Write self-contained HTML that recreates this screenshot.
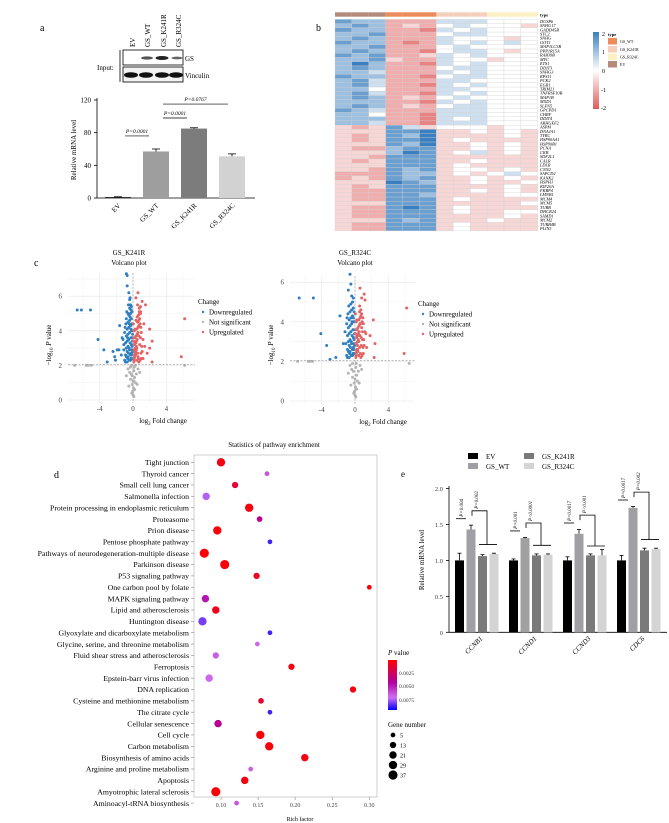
<!DOCTYPE html>
<html><head><meta charset="utf-8">
<style>
html,body{margin:0;padding:0;background:#fff;}
svg{display:block;font-family:"Liberation Serif",serif;}
</style></head>
<body>
<svg id="fig" width="669" height="823" viewBox="0 0 669 823" xmlns="http://www.w3.org/2000/svg">
<g id="pa">
<text x="40" y="31" font-size="10">a</text>
<text transform="translate(135,47) rotate(-90)" font-size="7">EV</text>
<text transform="translate(150,47) rotate(-90)" font-size="7">GS_WT</text>
<text transform="translate(166,47) rotate(-90)" font-size="7">GS_K241R</text>
<text transform="translate(181,47) rotate(-90)" font-size="7">GS_R324C</text>
<text x="97" y="70" font-size="7">Input:</text>
<line x1="120" y1="50" x2="120" y2="82" stroke="#000" stroke-width="0.8"/>
<rect x="123" y="50" width="60" height="15" fill="#fff" stroke="#000" stroke-width="0.8"/>
<rect x="123" y="67" width="60" height="15" fill="#f3f3f3" stroke="#000" stroke-width="0.8"/>
<ellipse cx="147" cy="58" rx="6" ry="1.6" fill="#555"/><ellipse cx="162" cy="58" rx="6.5" ry="2" fill="#222"/><ellipse cx="177" cy="58" rx="5.5" ry="1.4" fill="#666"/>
<ellipse cx="131" cy="75" rx="7" ry="2.8" fill="#111"/><ellipse cx="146" cy="75" rx="7" ry="2.8" fill="#111"/><ellipse cx="162" cy="75" rx="7" ry="2.8" fill="#111"/><ellipse cx="176" cy="75" rx="7" ry="2.8" fill="#111"/>
<text x="185" y="61" font-size="7">GS</text>
<text x="185" y="78" font-size="7">Vinculin</text>
<g id="abars"></g>
<text transform="translate(76,150) rotate(-90)" font-size="7" text-anchor="middle">Relative mRNA level</text>
</g>
<g id="pb">
<text x="316" y="31" font-size="10">b</text>
<g id="heat"></g>
<defs>
<linearGradient id="hmg" x1="0" y1="0" x2="0" y2="1"><stop offset="0" stop-color="#3a7fc0"/><stop offset="0.5" stop-color="#ffffff"/><stop offset="1" stop-color="#e05a5a"/></linearGradient>
<linearGradient id="pvg" x1="0" y1="0" x2="0" y2="1"><stop offset="0" stop-color="#ff0000"/><stop offset="0.45" stop-color="#b000a0"/><stop offset="0.75" stop-color="#d070f0"/><stop offset="1" stop-color="#0000ff"/></linearGradient>
</defs>
<rect x="593" y="32" width="6" height="77" fill="url(#hmg)"/>
<g font-size="6">
<text x="602" y="36">2</text><text x="602" y="54">1</text><text x="602" y="73">0</text><text x="601" y="92">-1</text><text x="601" y="110">-2</text></g>
<text x="608" y="36" font-size="4.5" font-weight="bold">type</text>
<g font-size="4">
<rect x="608" y="38" width="9" height="6.5" fill="#ec8c5a"/><text x="620" y="43">GS_WT</text>
<rect x="608" y="46" width="9" height="6.5" fill="#f4d0bc"/><text x="620" y="51">GS_K241R</text>
<rect x="608" y="53.5" width="9" height="6.5" fill="#fcf0c4"/><text x="620" y="58.5">GS_R324C</text>
<rect x="608" y="61" width="9" height="6.5" fill="#b38a7c"/><text x="620" y="66">EV</text></g>
</g>
<g id="pc">
<text x="34" y="266" font-size="10">c</text>
<text x="129" y="255" font-size="7" text-anchor="middle">GS_K241R</text>
<text x="129" y="265" font-size="7" text-anchor="middle">Volcano plot</text>
<text x="355" y="255" font-size="7" text-anchor="middle">GS_R324C</text>
<text x="355" y="265" font-size="7" text-anchor="middle">Volcano plot</text>
<g id="vL"></g><g id="vR"></g>
</g>
<g id="pd">
<text x="54" y="478" font-size="10">d</text>
<text x="274" y="447" font-size="7" text-anchor="middle">Statistics of pathway enrichment</text>
<rect x="194" y="455" width="183" height="342" fill="#fff" stroke="#bbb" stroke-width="0.7"/>
<g id="dots"></g>
<text x="300" y="821" font-size="6" text-anchor="middle">Rich factor</text>
<text x="388" y="655" font-size="7"><tspan font-style="italic">P</tspan> value</text>
<rect x="388" y="660" width="9" height="50" fill="url(#pvg)"/>
<g font-size="5.5" fill="#333"><text x="399" y="675">0.0025</text><text x="399" y="688">0.0050</text><text x="399" y="702">0.0075</text></g>
<text x="388" y="727" font-size="7">Gene number</text>
<g id="sizeleg"></g>
</g>
<g id="pe">
<text x="401" y="477" font-size="9">e</text>
<g font-size="7">
<rect x="468" y="453" width="10" height="6" fill="#000"/><text x="486" y="459">EV</text>
<rect x="468" y="463" width="10" height="6" fill="#a0a0a4"/><text x="486" y="469">GS_WT</text>
<rect x="524" y="453" width="10" height="6" fill="#7a7a7a"/><text x="542" y="459">GS_K241R</text>
<rect x="524" y="463" width="10" height="6" fill="#d4d4d4"/><text x="542" y="469">GS_R324C</text></g>
<g id="ebars"></g>
<text transform="translate(424,560) rotate(-90)" font-size="7" text-anchor="middle">Relative mRNA level</text>
</g>
</svg>
<script>
const NS="http://www.w3.org/2000/svg";
function mk(p,t,a,txt){const e=document.createElementNS(NS,t);for(const k in a)e.setAttribute(k,a[k]);if(txt!==undefined)e.textContent=txt;p.appendChild(e);return e;}

// ---------- Panel a data ----------
const aCats=["EV","GS_WT","GS_K241R","GS_R324C"];
const aVals=[1,57,85,51];
const aErr=[0.5,3,1,3];
const aTicks=[0,40,80,120];
const aColors=["#000","#9e9e9e","#7c7c7c","#d2d2d2"];
const aSigLevels=[76,98,115];
const aSigLabels=["P=0.0001","P=0.0001","P=0.0767"];
(function(){
 const g=document.getElementById('abars');
 const ay=v=>198-v*0.8167, ax=i=>118+i*38;
 mk(g,'line',{x1:97,y1:98,x2:97,y2:198,stroke:'#000','stroke-width':0.8});
 mk(g,'line',{x1:97,y1:198,x2:255,y2:198,stroke:'#000','stroke-width':0.8});
 aTicks.forEach(t=>{mk(g,'line',{x1:94,y1:ay(t),x2:97,y2:ay(t),stroke:'#000','stroke-width':0.8});
  const tx=mk(g,'text',{x:91,y:ay(t)+2.5,'font-size':7,'text-anchor':'end'},t);
  
  });
 aCats.forEach((c,i)=>{
  const r=mk(g,'rect',{x:ax(i)-13,y:ay(aVals[i]),width:26,height:198-ay(aVals[i]),fill:aColors[i]});
  
  
  mk(g,'line',{x1:ax(i),y1:ay(aVals[i]+aErr[i]),x2:ax(i),y2:ay(aVals[i]),stroke:'#000','stroke-width':0.8});
  mk(g,'line',{x1:ax(i)-4,y1:ay(aVals[i]+aErr[i]),x2:ax(i)+4,y2:ay(aVals[i]+aErr[i]),stroke:'#000','stroke-width':0.8});
  const t=mk(g,'text',{transform:`translate(${ax(i)+3},${206}) rotate(-45)`,'font-size':7,'text-anchor':'end'},c);
  
  
 });
 [[0,1],[1,2],[1,3]].forEach((s,k)=>{
  const y=ay(aSigLevels[k]);
  const x1=ax(s[0])+7, x2=ax(s[1])+(s[1]==3?-4:-7);
  mk(g,'line',{x1:x1,y1:y,x2:x2,y2:y,stroke:'#000','stroke-width':0.7});
  const t=mk(g,'text',{x:(x1+x2)/2,y:y-3,'font-size':5.5,'font-style':'italic','text-anchor':'middle'},aSigLabels[k]);
  
  
 });
})();

// ---------- Panel b data ----------
const hmGenes=["DUSP6","SNHG17","GADD45B","STC2","SNHG","GOT1","MAP1LC3B","PPP1R15A","RAB39B","MYC","ETS1","DDIT3","SNHG3","RPS11","PCK2","EGR1","TRIM21","TNFRSF10B","MAP1B","MXD1","SLFN5","GPCPD1","CHRF","DDIT4","ARHGEF2","ASPM","DNAJA1","TYRC","HSP90AA1","HSP90B1","PCNA","CKB","SDF2L1","CALR","LDLR","CNN2","SAPCD2","KANK2","HSPH1","KIF20A","FKBP4","LMNB1","MCM4","MCM5","TUBB","DHCR24","SAMD1","MCM2","TUBB4B","PLIN3"];
const hmRows=["766222555444","676232454443","766221545444","667222455444","676222544434","766212545454","667222454444","676221455434","767223545444","667322544344","686221545444","676222455444","665222545444","766221455444","675222554444","675221545444","664222554444","675221545444","676232454444","666221545444","676232455444","765222555444","664221555444","666221545444","665221555444",
"323753444344","333778334343","323768333343","323778343333","333768334343","322677334343","333687345343","332777333333","323777334333","333777343333","332767344343","222766343454","232767334343","333876334334","323777333343","322777334343","322776333344","322777343333","333777333334","322787343333","322777343344","322777333343","333767333433","322777343333","322777343333"];
const hmTypes=["EV","EV","EV","GS_WT","GS_WT","GS_WT","GS_K241R","GS_K241R","GS_K241R","GS_R324C","GS_R324C","GS_R324C"];
const typeColor={"EV":"#b38a7c","GS_WT":"#ec8c5a","GS_K241R":"#f4d0bc","GS_R324C":"#fcf0c4"};
(function(){
 const g=document.getElementById('heat');
 const x0=335,cw=16.9,y0=19.4,rh=4.23;
 function col(v){const a=Math.min(1,Math.abs(v)/2);let c=v>=0?[58,127,192]:[224,90,90];
  return `rgb(${Math.round(255+(c[0]-255)*a)},${Math.round(255+(c[1]-255)*a)},${Math.round(255+(c[2]-255)*a)})`;}
 hmTypes.forEach((t,j)=>{const r=mk(g,'rect',{x:x0+j*cw,y:12.3,width:cw,height:4.4,fill:typeColor[t]});
  
  });
 mk(g,'text',{x:540,y:16.5,'font-size':4.5,'font-weight':'bold'},'type');
 hmRows.forEach((s,i)=>{
  for(let j=0;j<12;j++){const v=(parseInt(s[j])-4)/2;
   const r=mk(g,'rect',{x:x0+j*cw,y:y0+i*rh,width:cw,height:rh,fill:col(v),stroke:'#d0d0d0','stroke-width':0.3});
   
   }
  const t=mk(g,'text',{x:540,y:y0+i*rh+3.4,'font-size':4.3,'font-style':'italic'},hmGenes[i]);
  
  
 });
})();

// ---------- Panel c data ----------
const vLBlue="-6.7:5.2,-6.2:5.2,-5.1:5.2,-4.2:3.5,-3.5:2.9,-3.1:2.2,-2.4:2.8,-2.2:2.5,-2.1:2.3,-1.9:2.9,-1.7:2.9,-1.6:4.3,-1.3:3.6,-1.4:2.6,-1.1:3.2,-0.8:4.7,-0.6:5.0,-0.5:6.2,-0.7:6.6,-0.8:7.3,-0.7:7.2,-0.3:5.5,-0.4:5.8,-1.0:2.3,-0.9:2.6,-0.8:3.0,-0.7:3.4,-0.6:3.8,-0.5:4.2,-0.4:4.6,-0.3:5.0,-0.2:5.4,-0.1:2.4,-1.1:2.9,-0.9:3.3,-0.8:3.7,-0.7:4.1,-0.6:4.5,-0.5:4.9,-0.4:5.3,-0.3:2.3,-0.2:2.7,-0.1:3.1,-0.9:2.2,-0.8:2.5,-0.7:2.8,-0.6:3.1,-0.5:3.5,-0.4:3.9,-0.3:4.3,-0.2:4.7,-0.1:5.1,-0.15:3.6,-1.2:3.5,-1.0:3.9,-0.85:4.4,-0.65:2.4,-0.55:2.7,-0.45:3.0,-0.35:3.3,-0.25:3.6,-0.15:4.0,-0.05:4.4,-0.95:4.2,-0.75:5.1,-0.55:5.5,-0.35:5.9,-0.25:4.1,-0.12:2.9,-0.05:3.4,-0.45:2.3,-0.7:2.2,-0.3:2.6,-0.2:3.2,-0.6:2.5,-0.4:2.9,-0.25:2.4,-0.15:2.6,-0.05:2.8,-0.35:4.8,-0.15:4.4,-0.05:3.8,-0.65:3.6,-0.45:4.4,-0.25:5.2";
const vLRed="0.6:6.2,1.1:5.7,1.5:5.5,2.0:4.1,2.3:3.4,2.0:3.0,1.7:2.7,2.3:2.2,5.8:2.5,6.2:4.7,1.2:2.4,1.4:3.1,1.3:4.4,0.9:5.0,0.1:2.3,0.2:2.6,0.3:3.0,0.4:3.4,0.5:3.8,0.6:4.2,0.7:4.6,0.8:5.0,0.9:5.4,1.0:2.4,0.15:2.9,0.25:3.3,0.35:3.7,0.45:4.1,0.55:4.5,0.65:4.9,0.75:5.3,0.85:2.3,0.95:2.7,1.05:3.1,0.1:2.2,0.2:2.5,0.3:2.8,0.4:3.1,0.5:3.5,0.6:3.9,0.7:4.3,0.8:4.7,0.9:5.1,0.12:3.6,1.2:3.5,1.0:3.9,0.85:4.4,0.65:2.4,0.55:2.7,0.45:3.0,0.35:3.3,0.25:3.6,0.15:4.0,0.05:4.4,0.95:4.2,0.75:5.1,0.55:5.5,0.35:5.9,0.25:4.1,0.12:2.9,0.05:3.4,0.45:2.3,0.7:2.2,0.3:2.6,0.2:3.2,0.6:2.5,0.4:2.9,1.1:2.8,0.9:3.6,0.15:2.4,0.25:2.7,0.35:4.6,0.5:4.8,0.7:3.7,0.8:3.2";
const vLGray="-7.0:2.0,-5.6:2.0,-5.4:2.0,-5.0:2.0,6.2:2.0,-0.3:1.9,0.1:1.7,-0.2:1.5,0.2:1.3,0:1.1,-0.1:0.9,0.05:0.7,-0.05:0.5,0:0.3,0.1:0.2,-0.4:1.6,0.4:1.5,0.3:1.0,-0.3:1.2,0.6:1.8,-0.6:1.8,0.2:0.6,-0.15:0.4,0.15:1.9,-0.8:1.4,0.8:1.6,0.5:0.9,-0.5:0.8,-0.2:2.0,0.3:2.0,-0.1:1.4,0.1:1.1";
const vRBlue="-6.7:5.2,-5.0:5.2,-4.1:3.4,-3.4:2.8,-3.0:2.1,-2.3:2.2,-1.8:4.3,-1.4:2.9,-0.6:6.4,-0.8:5.6,-0.5:5.9,-1.0:2.3,-0.9:2.6,-0.8:3.0,-0.7:3.4,-0.6:3.8,-0.5:4.2,-0.4:4.6,-0.3:5.0,-0.2:5.2,-0.1:2.4,-1.1:2.9,-0.9:3.3,-0.8:3.7,-0.7:4.1,-0.6:4.5,-0.5:4.9,-0.4:5.3,-0.3:2.3,-0.2:2.7,-0.1:3.1,-0.9:2.2,-0.8:2.5,-0.7:2.8,-0.6:3.1,-0.5:3.5,-0.4:3.9,-0.3:4.3,-0.2:4.7,-0.1:4.5,-0.15:3.6,-1.2:3.5,-1.0:3.9,-0.85:4.4,-0.65:2.4,-0.55:2.7,-0.45:3.0,-0.35:3.3,-0.25:3.6,-0.15:4.0,-0.05:4.0,-0.95:4.2,-0.75:4.8,-0.12:2.9,-0.05:3.4,-0.45:2.3,-0.7:2.2,-0.3:2.6,-0.2:3.2,-0.6:2.5,-0.4:2.9,-0.25:2.4,-0.15:2.6,-0.05:2.8,-0.35:4.0,-0.2:4.2";
const vRRed="0.6:5.7,1.1:5.4,1.2:5.1,2.2:4.1,1.8:3.3,2.4:2.9,2.3:2.2,5.9:2.4,6.2:4.7,1.4:2.7,0.8:5.2,0.1:2.3,0.2:2.6,0.3:3.0,0.4:3.4,0.5:3.8,0.6:4.2,0.7:4.6,0.8:4.4,0.9:3.5,1.0:2.4,0.15:2.9,0.25:3.3,0.35:3.7,0.45:4.1,0.55:4.5,0.65:3.9,0.75:3.2,0.85:2.3,0.95:2.7,1.05:3.1,0.1:2.2,0.2:2.5,0.3:2.8,0.4:3.1,0.5:3.5,0.6:3.9,0.7:4.3,0.8:3.7,0.9:3.1,0.12:3.6,1.2:3.5,1.0:3.9,0.85:4.0,0.65:2.4,0.55:2.7,0.45:3.0,0.35:3.3,0.25:3.6,0.15:4.0,0.05:4.4,0.95:4.2,0.55:4.8,0.25:4.1,0.12:2.9,0.05:3.4,0.45:2.3,0.7:2.2,0.3:2.6,0.2:3.2,1.1:2.8,1.3:3.4,0.15:2.4,0.35:2.5,0.6:3.3,0.75:2.8";
const vRGray="-6.9:2.0,-5.6:2.0,-5.4:2.0,-5.1:2.0,6.5:1.9,-0.3:1.9,0.1:1.7,-0.2:1.5,0.2:1.3,0:1.1,-0.1:0.9,0.05:0.7,-0.05:0.5,0:0.3,0.1:0.2,-0.4:1.6,0.4:1.5,0.3:1.0,-0.3:1.2,0.6:1.8,-0.6:1.8,0.2:0.6,-0.15:0.4,0.15:1.9,-0.8:1.4,0.8:1.6,0.5:0.9,-0.5:0.8";
const vXTicks=[-4,0,4];
const vYTicksL=[0,2,4,6];
const vYTicksR=[0,2,4,6];
function parsePts(s){return s.split(',').map(p=>p.split(':').map(Number));}
function volcano(gid,cfg,blue,red,gray,yticks,name){
 const g=document.getElementById(gid);
 const X=v=>cfg.x0+v*8.33, Y=v=>cfg.y0-v*cfg.sy;
 for(let v=-6;v<=6;v+=2){mk(g,'line',{x1:X(v),y1:cfg.top,x2:X(v),y2:cfg.y0+3,stroke:v%4==0?'#e6e6e6':'#f2f2f2','stroke-width':0.6});}
 for(let v=0;v<=cfg.ymax;v+=1){mk(g,'line',{x1:cfg.l,y1:Y(v),x2:cfg.r,y2:Y(v),stroke:v%2==0?'#e6e6e6':'#f2f2f2','stroke-width':0.6});}
 yticks.forEach(t=>{const tx=mk(g,'text',{x:cfg.l-6,y:Y(t)+2.5,'font-size':7,'text-anchor':'end',fill:'#444'},t);
  
  });
 vXTicks.forEach(t=>{const tx=mk(g,'text',{x:X(t),y:cfg.y0+11,'font-size':7,'text-anchor':'middle',fill:'#444'},t);
  
  });
 const draw=(pts,c,nm)=>pts.forEach(p=>{const d=mk(g,'circle',{cx:X(p[0]),cy:Y(p[1]),r:1.5,fill:c});
  
  });
 draw(gray,'#b5b5b5',name+'-point-not-significant');
 draw(blue,'#2f7fc1',name+'-point-downregulated');
 draw(red,'#e36464',name+'-point-upregulated');
 mk(g,'line',{x1:cfg.l,y1:Y(2.05),x2:cfg.r,y2:Y(2.05),stroke:'#999','stroke-width':0.6,'stroke-dasharray':'2,1.5'});
 mk(g,'line',{x1:X(0),y1:cfg.top,x2:X(0),y2:cfg.y0+3,stroke:'#999','stroke-width':0.6,'stroke-dasharray':'2,1.5'});
 const xt=mk(g,'text',{x:cfg.xtx,y:cfg.y0+23,'font-size':7,'text-anchor':'middle'});
 xt.innerHTML='log<tspan font-size="5" dy="2">2</tspan><tspan dy="-2"> Fold change</tspan>';
 
 
 const yt=mk(g,'text',{transform:`translate(${cfg.l-17},${cfg.ytc}) rotate(-90)`,'font-size':7,'text-anchor':'middle'});
 yt.innerHTML='−log<tspan font-size="5" dy="2">10</tspan><tspan dy="-2"> </tspan><tspan font-style="italic">P</tspan> value';
 
 
 const lx=cfg.r+3, ly=cfg.leg;
 mk(g,'text',{x:lx,y:ly,'font-size':7},'Change');
 [['Downregulated','#2f7fc1'],['Not significant','#b5b5b5'],['Upregulated','#e36464']].forEach((e,i)=>{
  const c=mk(g,'circle',{cx:lx+5,cy:ly+8+i*10,r:1.2,fill:e[1]});
  
  
  const t=mk(g,'text',{x:lx+11,y:ly+10.5+i*10,'font-size':7},e[0]);
  
  
 });
}
volcano('vL',{x0:133,y0:400,sy:17.3,l:68,r:195,top:273,ymax:7,xtx:163,ytc:345,leg:304},parsePts(vLBlue),parsePts(vLRed),parsePts(vLGray),vYTicksL,'volcano-left');
volcano('vR',{x0:355,y0:401,sy:19.8,l:290,r:415,top:276,ymax:6,xtx:383,ytc:345,leg:306},parsePts(vRBlue),parsePts(vRRed),parsePts(vRGray),vYTicksR,'volcano-right');

// ---------- Panel d data ----------
const dPaths=["Tight junction","Thyroid cancer","Small cell lung cancer","Salmonella infection","Protein processing in endoplasmic reticulum","Proteasome","Prion disease","Pentose phosphate pathway","Pathways of neurodegeneration-multiple disease","Parkinson disease","P53 signaling pathway","One carbon pool by folate","MAPK signaling pathway","Lipid and atherosclerosis","Huntington disease","Glyoxylate and dicarboxylate metabolism","Glycine, serine, and threonine metabolism","Fluid shear stress and atherosclerosis","Ferroptosis","Epstein-barr virus infection","DNA replication","Cysteine and methionine metabolism","The citrate cycle","Cellular senescence","Cell cycle","Carbon metabolism","Biosynthesis of amino acids","Arginine and proline metabolism","Apoptosis","Amyotrophic lateral sclerosis","Aminoacyl-tRNA biosynthesis"];
const dRich=[0.100,0.162,0.119,0.080,0.138,0.152,0.095,0.166,0.0775,0.105,0.148,0.300,0.079,0.093,0.075,0.166,0.149,0.093,0.195,0.084,0.278,0.154,0.166,0.096,0.153,0.165,0.213,0.140,0.132,0.093,0.121];
const dPval=[0.0005,0.0065,0.0015,0.0075,0.0003,0.0040,0.0003,0.0088,0.0002,0.0002,0.0008,0.0002,0.0050,0.0008,0.0082,0.0088,0.0070,0.0068,0.0005,0.0070,0.0004,0.0012,0.0088,0.0040,0.0002,0.0002,0.0004,0.0068,0.0005,0.0002,0.0066];
const dGenes=[29,5,13,21,29,9,29,5,37,37,13,5,21,21,29,5,5,13,13,21,13,9,5,21,29,29,21,5,21,37,5];
const dXTicks=[0.10,0.15,0.20,0.25,0.30];
const dLegendSizes=[5,13,21,29,37];
function rOf(n){return 1.1+Math.sqrt(n)*0.57;}
function pCol(p){const stops=[[0,[255,0,0]],[0.0045,[176,0,160]],[0.0072,[208,112,240]],[0.0095,[0,0,255]]];
 for(let i=0;i<stops.length-1;i++){if(p<=stops[i+1][0]){const a=(p-stops[i][0])/(stops[i+1][0]-stops[i][0]);const c0=stops[i][1],c1=stops[i+1][1];
  return `rgb(${Math.round(c0[0]+(c1[0]-c0[0])*a)},${Math.round(c0[1]+(c1[1]-c0[1])*a)},${Math.round(c0[2]+(c1[2]-c0[2])*a)})`;}}
 return 'rgb(0,0,255)';}
(function(){
 const g=document.getElementById('dots');
 const X=v=>221+(v-0.1)*741.5, Y=i=>462.3+i*11.36;
 dXTicks.forEach(t=>{mk(g,'line',{x1:X(t),y1:797,x2:X(t),y2:800,stroke:'#888','stroke-width':0.6});
  const tx=mk(g,'text',{x:X(t),y:807,'font-size':6,'text-anchor':'middle',fill:'#444'},t.toFixed(2));
  
  });
 dPaths.forEach((p,i)=>{
  mk(g,'line',{x1:191,y1:Y(i),x2:194,y2:Y(i),stroke:'#888','stroke-width':0.6});
  const t=mk(g,'text',{x:189,y:Y(i)+2.7,'font-size':7.8,'text-anchor':'end'},p);
  
  
  const c=mk(g,'circle',{cx:X(dRich[i]),cy:Y(i),r:rOf(dGenes[i]),fill:pCol(dPval[i])});
  
  
 });
 const sl=document.getElementById('sizeleg');
 dLegendSizes.forEach((s,i)=>{
  const c=mk(sl,'circle',{cx:393,cy:735+i*10,r:rOf(s),fill:'#000'});
  
  
  const t=mk(sl,'text',{x:400,y:737.5+i*10,'font-size':6},s);
  
  
 });
})();

// ---------- Panel e data ----------
const eGenes=["CCNB1","CCND1","CCND3","CDC6"];
const eEV=[1.00,1.00,1.00,1.00];
const eWT=[1.43,1.31,1.37,1.73];
const eK=[1.06,1.07,1.07,1.14];
const eR=[1.09,1.08,1.07,1.16];
const eEVerr=[0.10,0.02,0.05,0.07];
const eWTerr=[0.06,0.01,0.06,0.02];
const eKerr=[0.02,0.02,0.02,0.03];
const eRerr=[0.01,0.01,0.08,0.01];
const ePvals1=["P=0.004","P=0.001","P=0.0017","P=0.0017"];
const ePvals2=["P=0.002","P<0.0001","P<0.001","P=0.002"];
const eYTicks=[0,0.5,1.0,1.5,2.0];
(function(){
 const g=document.getElementById('ebars');
 const Y=v=>632.3-v*71.9, GX=i=>455+i*54;
 mk(g,'line',{x1:449,y1:486,x2:449,y2:632.3,stroke:'#000','stroke-width':0.8});
 mk(g,'line',{x1:449,y1:632.3,x2:667,y2:632.3,stroke:'#000','stroke-width':0.8});
 eYTicks.forEach(t=>{mk(g,'line',{x1:446,y1:Y(t),x2:449,y2:Y(t),stroke:'#000','stroke-width':0.8});
  const tx=mk(g,'text',{x:443,y:Y(t)+2.5,'font-size':6.5,'text-anchor':'end',fill:'#444'},t===0?'0':t.toFixed(1));
  
  });
 const series=[[eEV,eEVerr,'#000','ev'],[eWT,eWTerr,'#a0a0a4','wt'],[eK,eKerr,'#7a7a7a','k241r'],[eR,eRerr,'#d4d4d4','r324c']];
 eGenes.forEach((gn,i)=>{
  series.forEach((s,j)=>{
   const x=GX(i)+j*11.5, v=s[0][i], e=s[1][i];
   const r=mk(g,'rect',{x:x,y:Y(v),width:9,height:632.3-Y(v),fill:s[2]});
   
   
   mk(g,'line',{x1:x+4.5,y1:Y(v+e),x2:x+4.5,y2:Y(v),stroke:'#000','stroke-width':0.8});
   mk(g,'line',{x1:x+2.5,y1:Y(v+e),x2:x+6.5,y2:Y(v+e),stroke:'#000','stroke-width':0.8});
  });
  const wtTop=eWT[i]+eWTerr[i];
  const y1=Y(wtTop+0.09), y2=Y(wtTop+0.2), y3=Y(Math.max(eK[i],eR[i])+0.13);
  mk(g,'line',{x1:GX(i)+1,y1:y1,x2:GX(i)+11,y2:y1,stroke:'#000','stroke-width':0.8});
  mk(g,'polyline',{points:`${GX(i)+17},${y2+5} ${GX(i)+17},${y2} ${GX(i)+32},${y2} ${GX(i)+32},${y3}`,fill:'none',stroke:'#000','stroke-width':0.8});
  mk(g,'line',{x1:GX(i)+24,y1:y3,x2:GX(i)+42,y2:y3,stroke:'#000','stroke-width':0.8});
  const t1=mk(g,'text',{transform:`translate(${GX(i)+8},${y1-2}) rotate(-90)`,'font-size':5,'font-style':'italic'},ePvals1[i]);
  
  
  const t2=mk(g,'text',{transform:`translate(${GX(i)+23},${y2-2}) rotate(-90)`,'font-size':5,'font-style':'italic'},ePvals2[i]);
  
  
  const xl=mk(g,'text',{transform:`translate(${GX(i)+28},${639}) rotate(-45)`,'font-size':7,'font-style':'italic','text-anchor':'end'},gn);
  
  
 });
})();
</script>
</body></html>
